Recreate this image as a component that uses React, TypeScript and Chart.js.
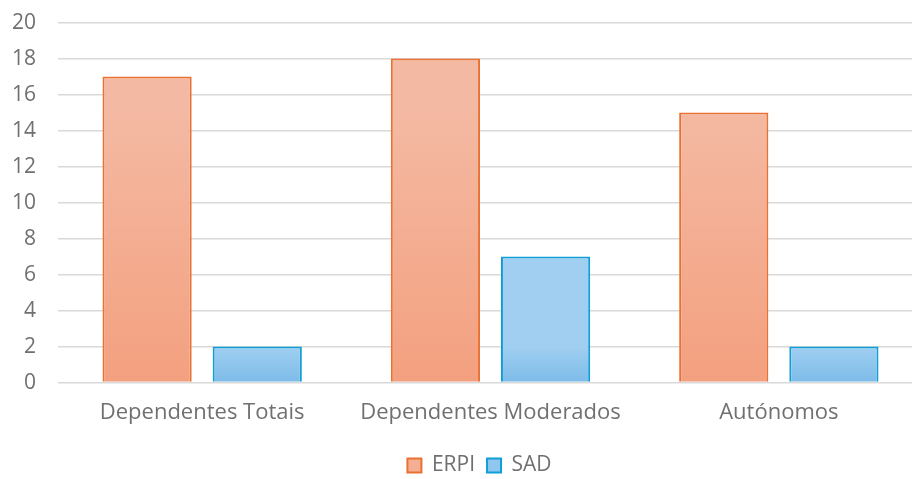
import React, { useEffect, useRef } from "react";
import { Chart, registerables } from "chart.js";

Chart.register(...registerables);

const categories = ["Dependentes Totais", "Dependentes Moderados", "Autónomos"];
const erpiValues = [17, 18, 15];
const sadValues = [2, 7, 2];
const yTicks = [0, 2, 4, 6, 8, 10, 12, 14, 16, 18, 20];

const FONT = "'Open Sans', 'Liberation Sans', sans-serif";
const TEXT = "#707070";

const gradientPlugin = {
  id: "barGradient",
  beforeDatasetsDraw(chart: any) {
    const ctx = chart.ctx;
    chart.data.datasets.forEach((ds: any, i: number) => {
      const meta = chart.getDatasetMeta(i);
      meta.data.forEach((el: any) => {
        const top = Math.min(el.y, el.base);
        const bottom = Math.max(el.y, el.base);
        const g = ctx.createLinearGradient(0, top, 0, bottom);
        g.addColorStop(0, ds.gradTop);
        g.addColorStop(1, ds.gradBottom);
        el.options.backgroundColor = g;
      });
    });
  },
};

const legendShiftPlugin = {
  id: "legendShift",
  afterLayout(chart: any) {
    const lg = chart.legend;
    if (lg) {
      lg.left += 18;
      lg.right += 18;
      if (lg.legendHitBoxes) lg.legendHitBoxes.forEach((b: any) => (b.left += 18));
    }
  },
};

export default function App() {
  const ref = useRef<HTMLCanvasElement | null>(null);
  useEffect(() => {
    if (!ref.current) return;
    const chart = new Chart(ref.current, {
      type: "bar",
      data: {
        labels: categories,
        datasets: [
          {
            label: "ERPI",
            data: erpiValues,
            backgroundColor: "#F4AE92",
            borderColor: "#E97132",
            borderWidth: 2,
            gradTop: "#F4B9A2",
            gradBottom: "#F3A07F",
            categoryPercentage: 0.764,
            barPercentage: 0.81,
          } as any,
          {
            label: "SAD",
            data: sadValues,
            backgroundColor: "#90C7EE",
            borderColor: "#0F9ED5",
            borderWidth: 2,
            gradTop: "#A0CFF1",
            gradBottom: "#7DBCE9",
            categoryPercentage: 0.764,
            barPercentage: 0.81,
          } as any,
        ],
      },
      options: {
        animation: false,
        responsive: false,
        maintainAspectRatio: false,
        layout: { padding: { top: 0, right: 35, left: 0, bottom: -7 } },
        plugins: {
          tooltip: { enabled: false },
          legend: {
            position: "bottom",
            labels: {
              boxWidth: 14,
              boxHeight: 14,
              color: TEXT,
              font: { family: FONT, size: 21 },
              padding: 12,
            },
          },
        },
        scales: {
          x: {
            grid: { display: false, drawTicks: false },
            border: { display: false },
            ticks: {
              color: TEXT,
              font: { family: FONT, size: 22 },
              padding: 17,
            },
          },
          y: {
            min: 0,
            max: 20,
            afterFit: (s: any) => {
              s.width = 58;
            },
            afterBuildTicks: (s: any) => {
              s.ticks = yTicks.map((v) => ({ value: v }));
            },
            grid: { color: "#d9d9d9", lineWidth: 1.5, drawTicks: false },
            border: { display: false },
            ticks: {
              color: TEXT,
              font: { family: FONT, size: 21 },
              padding: 22,
            },
          },
        },
      } as any,
      plugins: [gradientPlugin, legendShiftPlugin],
    });
    return () => chart.destroy();
  }, []);
  return (
    <div style={{ position: "fixed", left: 0, top: -12, width: 958, height: 491, background: "#fff" }}>
      <canvas ref={ref} width={958} height={491} style={{ width: 958, height: 491 }} />
    </div>
  );
}
